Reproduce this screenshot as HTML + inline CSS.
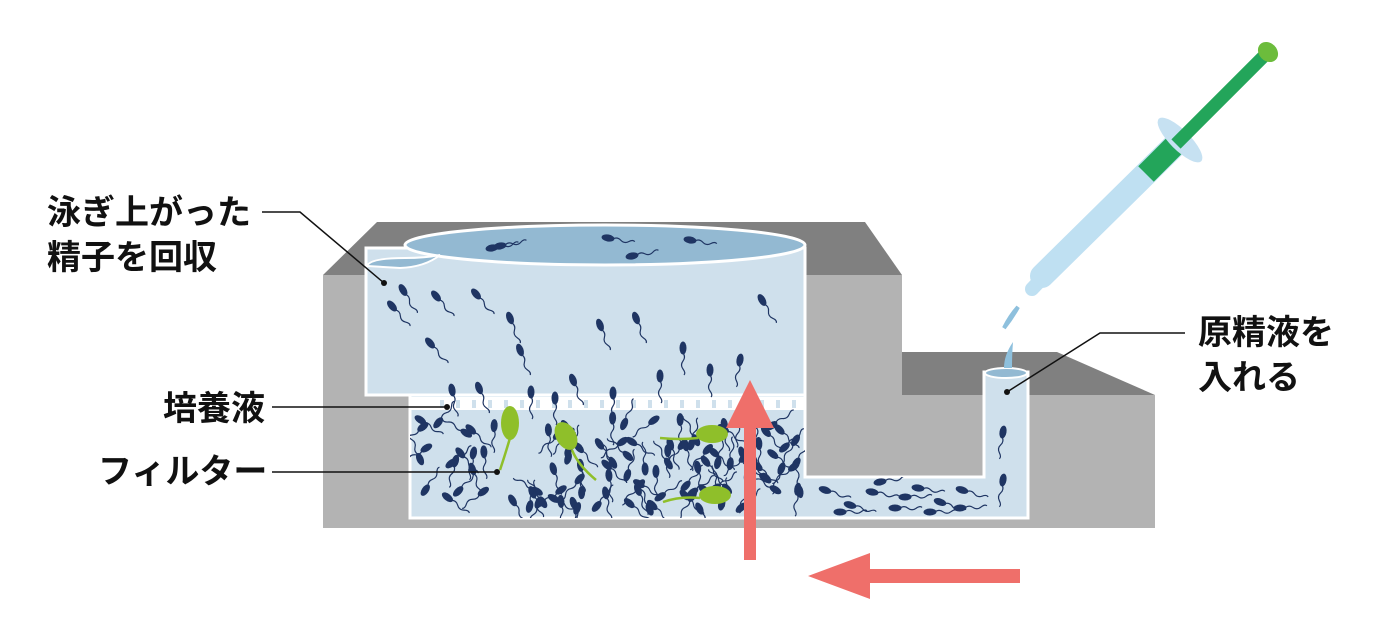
<!DOCTYPE html>
<html><head><meta charset="utf-8"><style>
html,body{margin:0;padding:0;background:#fff;}
body{width:1384px;height:643px;overflow:hidden;position:relative;font-family:"Liberation Sans","Noto Sans CJK JP",sans-serif;}
.l{position:absolute;font-size:34px;font-weight:bold;color:#111;line-height:1;white-space:nowrap;}
</style></head><body>
<svg id="s" width="1384" height="643" viewBox="0 0 1384 643" style="position:absolute;left:0;top:0">
<defs>
<clipPath id="cp"><path d="M366,248 H805 V477 H984 V372 H1028 V518 H410 V395 H366 Z"/></clipPath>
</defs>
<polygon points="902,352 1057,352 1155,395 902,395" fill="#808080"/>
<polygon points="377,222 865,222 902,275 323,275" fill="#808080"/>
<rect x="323" y="275" width="579" height="120" fill="#b3b3b3"/>
<rect x="323" y="395" width="832" height="133" fill="#b3b3b3"/>
<path d="M410,395 H805 V477 H984 V372 H1028 V518 H410 Z" fill="#cfe0ec" stroke="#fff" stroke-width="3"/>
<rect x="366" y="248" width="439" height="147" fill="#cfe0ec" stroke="#fff" stroke-width="3"/>
<ellipse cx="605" cy="245" rx="200" ry="20" fill="#93b9d2" stroke="#fff" stroke-width="3"/>
<path d="M367,266 Q370,258 405,258 Q425,258 440,255 Q425,267 400,268 Z" fill="#93b9d2" stroke="#fff" stroke-width="2"/>
<rect x="410" y="397" width="395" height="13" fill="#fff"/>
<g id="fd"></g>
<ellipse cx="1006" cy="373" rx="21" ry="5" fill="#93b9d2" stroke="#fff" stroke-width="2"/>
<g id="sp" clip-path="url(#cp)"></g>
<g id="sp2"></g>
<g fill="#8fbf2a" stroke="#8fbf2a">
<ellipse cx="510" cy="423" rx="9" ry="17" stroke="none"/><path d="M510,438 Q505,455 500,470" fill="none" stroke-width="2.5"/>
<ellipse cx="566" cy="436" rx="10" ry="15" transform="rotate(-30 566 436)" stroke="none"/><path d="M572,450 Q578,465 596,480" fill="none" stroke-width="2.5"/>
<ellipse cx="712" cy="434" rx="16" ry="9" stroke="none"/><path d="M698,438 Q680,440 660,438" fill="none" stroke-width="2.5"/>
<ellipse cx="715" cy="495" rx="16" ry="9" stroke="none"/><path d="M700,498 Q680,496 663,502" fill="none" stroke-width="2.5"/>
</g>
<polygon points="744,560 756,560 756,428 774,428 750,380 726,428 744,428" fill="#ef6f6a"/>
<polygon points="1020,569 870,569 870,553 808,576 870,599 870,583 1020,583" fill="#ef6f6a"/>
<g>
<line x1="1176" y1="144" x2="1042" y2="276" stroke="#bfe0f2" stroke-width="24" stroke-linecap="round"/>
<line x1="1050" y1="270" x2="1032" y2="289" stroke="#bfe0f2" stroke-width="14" stroke-linecap="round"/>
<line x1="1180" y1="140" x2="1146" y2="174" stroke="#23a55a" stroke-width="22"/>
<ellipse cx="1180" cy="140" rx="30" ry="10" transform="rotate(45 1180 140)" fill="#c6e1f2"/>
<line x1="1176" y1="144" x2="1264" y2="56" stroke="#23a55a" stroke-width="13"/>
<ellipse cx="1268" cy="52" rx="11" ry="9" transform="rotate(45 1268 52)" fill="#6cbc3c"/>
<path d="M1018,307 Q1012,318 1004,328 Q1010,316 1018,307Z" fill="#8ec0dd" stroke="#8ec0dd" stroke-width="4"/>
<path d="M1013,342 Q1004,355 1004,368 L1012,368 Q1012,354 1013,342Z" fill="#8ec0dd"/>
</g>
<g stroke="#111" stroke-width="1.5" fill="none">
<polyline points="262,212 300,212 384,283"/>
<line x1="272" y1="407" x2="447" y2="407"/>
<line x1="272" y1="472" x2="497" y2="472"/>
<polyline points="1185,333 1100,333 1007,392"/>
</g>
<g fill="#111"><circle cx="384" cy="283" r="3"/><circle cx="447" cy="407" r="3"/><circle cx="497" cy="472" r="3"/><circle cx="1007" cy="392" r="3"/></g>
</svg>
<div class="l" style="left:47px;top:196px">泳ぎ上がった</div>
<div class="l" style="left:47px;top:241px">精子を回収</div>
<div class="l" style="left:163px;top:392px">培養液</div>
<div class="l" style="left:98px;top:455px">フィルター</div>
<div class="l" style="left:1198px;top:316px">原精液を</div>
<div class="l" style="left:1198px;top:361px">入れる</div>
<script>
var NS="http://www.w3.org/2000/svg";
var fd=document.getElementById("fd");
for(var x=440;x<800;x+=16){var r=document.createElementNS(NS,"rect");r.setAttribute("x",x);r.setAttribute("y",400);r.setAttribute("width",4);r.setAttribute("height",8);r.setAttribute("fill","#cfe0ec");fd.appendChild(r);}
var seed=11;function R(){seed=(seed*16807)%2147483647;return seed/2147483647;}
var sp=document.getElementById("sp"),sp2=document.getElementById("sp2");
function sperm(x,y,a,tgt){var g=document.createElementNS(NS,"g");g.setAttribute("transform","translate("+x+","+y+") rotate("+a+")");
g.innerHTML='<ellipse cx="0" cy="0" rx="3.5" ry="6.5" fill="#1f3563"/><path d="M0,5 q3,4 0,8 q-3,4 0,8 q3,4 1,6" fill="none" stroke="#1f3563" stroke-width="1.2"/>';(tgt||sp).appendChild(g);}
[[492,248,-100],[608,238,-80],[690,240,-80],[632,256,-100],[500,246,-100]].forEach(function(p){sperm(p[0],p[1],p[2],sp2);});
var up=[[403,290,-30],[392,306,-40],[436,296,-40],[476,294,-40],[510,318,-20],[430,343,-40],[520,350,-20],[600,325,-20],[636,318,-20],[683,348,0],[573,380,-20],[660,376,0],[613,393,0],[710,370,0],[740,360,10],[762,300,-30],[479,388,-20],[452,390,-10],[531,392,0],[555,398,0]];
up.forEach(function(p){sperm(p[0],p[1],p[2]);});
for(var i=0;i<115;i++){var x=420+R()*380,y=418+R()*92;sperm(x,y,-60+R()*120+(R()<0.3?180:0));}
var ch=[[825,490],[850,505],[872,492],[895,508],[918,488],[940,502],[962,490],[840,512],[905,497],[930,512],[960,508],[880,482]];
ch.forEach(function(p){sperm(p[0],p[1],-100+R()*30);});
sperm(1003,432,10);sperm(1003,480,10);
</script>
</body></html>
